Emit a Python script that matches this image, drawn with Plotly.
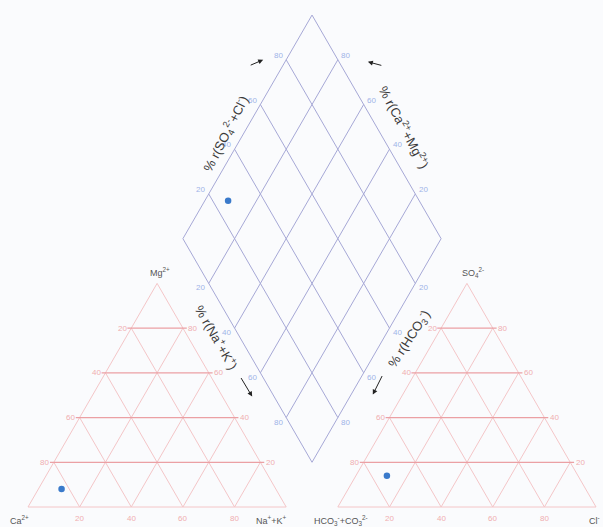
import numpy as np
import plotly.graph_objects as go

# ---- data (percent, meq-based) ----
sample_ca = [83]
sample_mg = [8]
sample_nak = [9]
sample_hco3 = [74]
sample_so4 = [14]
sample_cl = [12]

tick_values = [20, 40, 60, 80]

H = np.sqrt(3) / 2
GAP = 0.2
OFF_R = 1 + GAP  # right triangle x-offset
DB = (1 + GAP / 2, GAP * H)  # diamond bottom vertex

TRI_GRID_H = "#eba0a4"
TRI_GRID_D = "#f4c6c8"
DIA_GRID = "#a6a8d6"
TRI_LBL = "#f0aeb0"
DIA_LBL = "#9fb4e8"
TXT = "#555555"
TITLE = "#3a3a3a"
FONT = "Liberation Sans, Arial"


def cat_xy(ca, mg, nak):
    t = ca + mg + nak
    mg, nak = mg / t, nak / t
    return nak + mg / 2, mg * H


def an_xy(hco3, so4, cl):
    t = hco3 + so4 + cl
    so4, cl = so4 / t, cl / t
    return OFF_R + cl + so4 / 2, so4 * H


def dia_xy(camg, so4cl):
    c, a = camg / 100, so4cl / 100
    return DB[0] + 0.5 * (a - c), DB[1] + H * (a + c)


fig = go.Figure()


def seg(x0, y0, x1, y1, color, width=1):
    fig.add_trace(go.Scatter(x=[x0, x1], y=[y0, y1], mode="lines",
                             line=dict(color=color, width=width),
                             hoverinfo="skip", showlegend=False))


# ---- triangles ----
for off in (0, OFF_R):
    fig.add_trace(go.Scatter(x=[off, off + 1, off + 0.5, off], y=[0, 0, H, 0],
                             mode="lines", line=dict(color=TRI_GRID_D, width=1),
                             hoverinfo="skip", showlegend=False))
    for v in tick_values:
        f = v / 100
        seg(off + f, 0, off + f + (1 - f) / 2, (1 - f) * H, TRI_GRID_D, 1)
        seg(off + 1 - f, 0, off + (1 - f) / 2, (1 - f) * H, TRI_GRID_D, 1)
    for v in tick_values:
        f = v / 100
        e = 0.015
        seg(off + f / 2 - e, f * H, off + 1 - f / 2 + e, f * H, TRI_GRID_H, 1.2)

# ---- diamond ----
dv = [dia_xy(0, 0), dia_xy(100, 0), dia_xy(100, 100), dia_xy(0, 100), dia_xy(0, 0)]
fig.add_trace(go.Scatter(x=[p[0] for p in dv], y=[p[1] for p in dv], mode="lines",
                         line=dict(color=DIA_GRID, width=1),
                         hoverinfo="skip", showlegend=False))
for v in tick_values:
    a0 = dia_xy(v, 0)
    a1 = dia_xy(v, 100)
    seg(a0[0], a0[1], a1[0], a1[1], DIA_GRID)
    b0 = dia_xy(0, v)
    b1 = dia_xy(100, v)
    seg(b0[0], b0[1], b1[0], b1[1], DIA_GRID)

# ---- samples ----
cx, cy = zip(*[cat_xy(a, b, c) for a, b, c in zip(sample_ca, sample_mg, sample_nak)])
ax_, ay_ = zip(*[an_xy(a, b, c) for a, b, c in zip(sample_hco3, sample_so4, sample_cl)])
dxy = [dia_xy(a + b, c + d) for a, b, c, d in zip(sample_ca, sample_mg, sample_so4, sample_cl)]
dx, dy = zip(*dxy)
fig.add_trace(go.Scatter(x=list(cx) + list(ax_) + list(dx), y=list(cy) + list(ay_) + list(dy),
                         mode="markers", marker=dict(color="#3a7acb", size=6.5),
                         hoverinfo="skip", showlegend=False))

ann = []


def txt(x, y, s, color=TXT, size=9, angle=0, xshift=0, yshift=0, xanchor="center"):
    ann.append(dict(x=x, y=y, text=s, showarrow=False, textangle=angle,
                    font=dict(color=color, size=size, family=FONT),
                    xshift=xshift, yshift=yshift, xanchor=xanchor))


# triangle tick labels
for off in (0, OFF_R):
    for v in tick_values:
        f = v / 100
        txt(off + f, 0, str(v), TRI_LBL, 8, yshift=-11)
        txt(off + f / 2, f * H, str(100 - v), TRI_LBL, 8, xshift=-9)
        txt(off + 1 - f / 2, f * H, str(v), TRI_LBL, 8, xshift=10)

# vertex labels
txt(0, 0, "Ca<sup>2+</sup>", xshift=-9, yshift=-13)
txt(1, 0, "Na<sup>+</sup>+K<sup>+</sup>", xshift=-15, yshift=-13)
txt(0.5, H, "Mg<sup>2+</sup>", xshift=3, yshift=11)
txt(OFF_R, 0, "HCO<sub>3</sub><sup>-</sup>+CO<sub>3</sub><sup>2-</sup>", xshift=3, yshift=-13)
txt(OFF_R + 1, 0, "Cl<sup>-</sup>", xshift=-2, yshift=-13)
txt(OFF_R + 0.5, H, "SO<sub>4</sub><sup>2-</sup>", xshift=6, yshift=11)

# diamond tick labels
sh = 9
for v in tick_values:
    p = dia_xy(100, v)   # upper-left edge: SO4+Cl
    txt(p[0], p[1], str(v), DIA_LBL, 8, xshift=-sh * H, yshift=sh * 0.5)
    p = dia_xy(v, 100)   # upper-right edge: Ca+Mg
    txt(p[0], p[1], str(v), DIA_LBL, 8, xshift=sh * H, yshift=sh * 0.5)
    p = dia_xy(100 - v, 0)  # lower-left edge: Na+K
    txt(p[0], p[1], str(v), DIA_LBL, 8, xshift=-sh * H, yshift=-sh * 0.5)
    p = dia_xy(0, 100 - v)  # lower-right edge: HCO3
    txt(p[0], p[1], str(v), DIA_LBL, 8, xshift=sh * H, yshift=-sh * 0.5)

# axis titles
TS = 13
p = dia_xy(100, 47)
txt(p[0], p[1], "% r(SO<sub>4</sub><sup>2-</sup>+Cl<sup>-</sup>)", TITLE, TS, angle=-63, xshift=-18)
p = dia_xy(50, 100)
txt(p[0], p[1], "% r(Ca<sup>2+</sup>+Mg<sup>2+</sup>)", TITLE, TS, angle=62, xshift=28)
p = dia_xy(56, 0)
txt(p[0], p[1], "% r(Na<sup>+</sup>+K<sup>+</sup>)", TITLE, TS, angle=60, xshift=-23)
p = dia_xy(0, 55)
txt(p[0], p[1], "% r(HCO<sub>3</sub><sup>-</sup>)", TITLE, TS, angle=-57, xshift=26)


# arrows (direction of increase)
def arrow(p, sx, sy, tx, ty):
    ann.append(dict(x=p[0], y=p[1], xshift=sx, yshift=sy, ax=tx, ay=ty,
                    axref="pixel", ayref="pixel",
                    showarrow=True, arrowhead=2, arrowsize=1, arrowwidth=1,
                    arrowcolor="#222222", text=""))


arrow(dia_xy(100, 80), -23, 0, -14, 6)
arrow(dia_xy(80, 100), 30, -2, 15, 4)
arrow(dia_xy(20, 0), -34, 21, -12, -20)
arrow(dia_xy(0, 20), 35, 23, 10, -20)

W, Hpx = 603, 527
scale = 258.2
x0px, y0px = 28, 507
fig.update_layout(
    width=W, height=Hpx, margin=dict(l=0, r=0, t=0, b=0),
    paper_bgcolor="#fafbfd", plot_bgcolor="#fafbfd",
    xaxis=dict(range=[-x0px / scale, (W - x0px) / scale], visible=False, fixedrange=True),
    yaxis=dict(range=[-(Hpx - y0px) / scale, y0px / scale], visible=False, fixedrange=True),
    annotations=ann, showlegend=False,
)
fig.write_html("out.html")
